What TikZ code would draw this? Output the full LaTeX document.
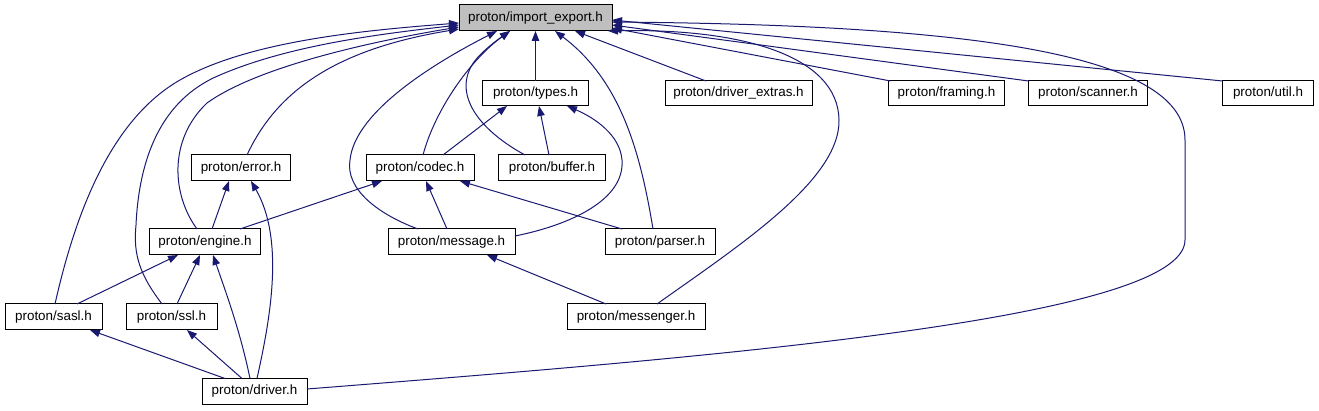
\documentclass[tikz,border=0pt]{standalone}
\usepackage{fontspec}
\setmainfont{Liberation Sans}
\usetikzlibrary{arrows.meta,calc}
\definecolor{edgeblue}{HTML}{191970}
\definecolor{rootgray}{HTML}{BFBFBF}
\begin{document}
\begin{tikzpicture}[x=1pt,y=-1pt,
  box/.style={draw=black,line width=1pt,fill=white,inner sep=0pt,outer sep=0pt,
    minimum height=26pt,font=\fontsize{13.4}{15}\selectfont},
  dep/.style={draw=edgeblue,line width=1pt,-{Triangle[length=10pt,width=7.5pt]}}]
\useasboundingbox (0,0) rectangle (1319,411);
% nodes
\node[box,fill=rootgray,minimum width=153pt] (ie) at (535.5,18) {proton/import\_export.h};
\node[box,minimum width=106pt,minimum height=25pt] (types) at (535.5,93.5) {proton/types.h};
\node[box,minimum width=147pt,minimum height=25pt] (dextras) at (738.5,93.5) {proton/driver\_extras.h};
\node[box,minimum width=116pt,minimum height=25pt] (framing) at (946.5,93.5) {proton/framing.h};
\node[box,minimum width=119pt,minimum height=25pt] (scanner) at (1088,93.5) {proton/scanner.h};
\node[box,minimum width=91pt,minimum height=25pt] (util) at (1268,93.5) {proton/util.h};
\node[box,minimum width=99pt] (error) at (241,168) {proton/error.h};
\node[box,minimum width=108pt] (codec) at (420,168) {proton/codec.h};
\node[box,minimum width=107pt] (buffer) at (552,168) {proton/buffer.h};
\node[box,minimum width=111pt] (engine) at (205,242) {proton/engine.h};
\node[box,minimum width=127pt] (message) at (451.5,242) {proton/message.h};
\node[box,minimum width=110pt] (parser) at (660,242) {proton/parser.h};
\node[box,minimum width=97pt] (sasl) at (53.5,317) {proton/sasl.h};
\node[box,minimum width=91pt] (ssl) at (171.5,317) {proton/ssl.h};
\node[box,minimum width=138pt] (messenger) at (636,317) {proton/messenger.h};
\node[box,minimum width=105pt] (driver) at (254.5,391.5) {proton/driver.h};
% edges to import_export (left side)
\draw[dep] ($(sasl.north)+(1.5,0)$) .. controls (75,215) and (110,120) .. (180,80)
  .. controls (250,40) and (370,30) .. ($(ie.west)+(0,5)$);
\draw[dep] ($(ssl.north)+(-9.5,0)$) .. controls (140,275) and (133,255) .. (136,225)
  .. controls (139,160) and (160,100) .. (220,75)
  .. controls (290,45) and (380,34) .. ($(ie.west)+(0,7)$);
\draw[dep] ($(engine.north)+(-8,0)$) .. controls (172,195) and (168,140) .. (207,103)
  .. controls (260,65) and (380,40) .. ($(ie.west)+(0,9)$);
\draw[dep] ($(error.north)+(6,0)$) .. controls (275,95) and (330,50) .. ($(ie.west)+(0,11)$);
% edges to import_export (bottom)
\draw[dep] ($(message.north)+(-33.5,0)$) .. controls (380,215) and (345,190) .. (350,160)
  .. controls (355,110) and (440,60) .. ($(ie.south)+(-38.5,0)$);
\draw[dep] ($(codec.north)+(3,0)$) .. controls (435,110) and (470,60) .. ($(ie.south)+(-25.5,0)$);
\draw[dep] ($(buffer.north)+(-27,0)$) .. controls (470,125) and (450,85) .. (480,55)
  .. controls (490,45) and (500,38) .. ($(ie.south)+(-25.5,0)$);
\draw[dep] (types.north) -- (ie.south);
\draw[dep] ($(parser.north)+(-7,0)$) .. controls (640,150) and (620,80) .. ($(ie.south)+(19.5,0)$);
\draw[dep] ($(dextras.north)+(-32.5,0)$) -- ($(ie.south)+(39.5,0)$);
\draw[dep] ($(messenger.north)+(21,0)$) .. controls (740,245) and (840,180) .. (839,120)
  .. controls (838,55) and (740,28) .. ($(ie.south)+(72.5,0)$);
% edges to import_export (right side)
\draw[dep] ($(framing.north west)+(2,0)$) -- ($(ie.east)+(0,10)$);
\draw[dep] (scanner.north west) -- ($(ie.east)+(0,7)$);
\draw[dep] (util.north west) -- ($(ie.east)+(0,2)$);
\draw[dep] ($(driver.east)+(0,-2.5)$) .. controls (700,358) and (1185,320) .. (1185,240)
  -- (1185,140) .. controls (1185,50) and (950,25) .. ($(ie.east)+(0,4)$);
% edges to types
\draw[dep] ($(codec.north)+(23,0)$) -- ($(types.south)+(-28.5,0)$);
\draw[dep] ($(buffer.north)+(-3,0)$) -- ($(types.south)+(3.5,0)$);
\draw[dep] ($(message.east)+(0,-6)$) .. controls (570,225) and (625,200) .. (622,160)
  .. controls (620,135) and (595,118) .. ($(types.south)+(31.5,0)$);
% edges to codec
\draw[dep] ($(engine.north)+(35,0)$) -- ($(codec.south)+(-38,0)$);
\draw[dep] ($(message.north)+(-4.5,0)$) -- ($(codec.south)+(6,0)$);
\draw[dep] ($(parser.north)+(-38,0)$) -- ($(codec.south)+(40,0)$);
% edges to error
\draw[dep] ($(engine.north)+(7,0)$) -- ($(error.south)+(-12,0)$);
\draw[dep] ($(driver.north)+(2.5,0)$) .. controls (270,320) and (285,240) .. ($(error.south)+(10,0)$);
% edges to engine
\draw[dep] ($(sasl.north)+(23.5,0)$) -- ($(engine.south)+(-27,0)$);
\draw[dep] ($(ssl.north)+(5.5,0)$) -- ($(engine.south)+(-5,0)$);
\draw[dep] ($(driver.north)+(-4.5,0)$) .. controls (240,330) and (225,290) .. ($(engine.south)+(8,0)$);
% edges to sasl, ssl, message
\draw[dep] ($(driver.north)+(-29.5,0)$) -- ($(sasl.south)+(36.5,0)$);
\draw[dep] ($(driver.north)+(-12.5,0)$) -- ($(ssl.south)+(15.5,0)$);
\draw[dep] ($(messenger.north)+(-30,0)$) -- ($(message.south)+(35.5,0)$);
\end{tikzpicture}
\end{document}
